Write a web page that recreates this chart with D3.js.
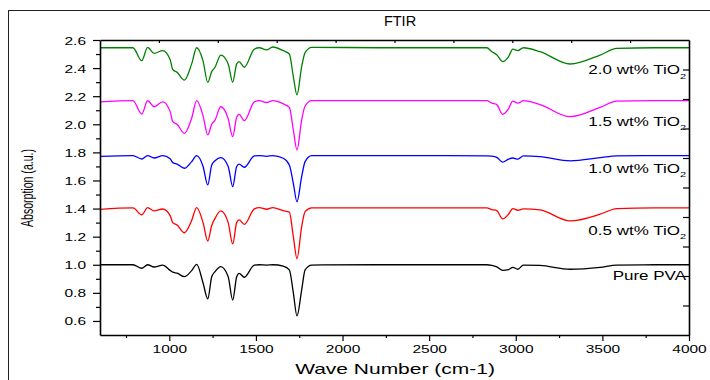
<!DOCTYPE html>
<html>
<head>
<meta charset="utf-8">
<title>FTIR</title>
<style>
  body { margin: 0; background: #fff; }
  text { font-family: "Liberation Sans", Arial, sans-serif; fill: #000; }
</style>
</head>
<body>
<div id="chart"></div>
<script src="https://cdn.jsdelivr.net/npm/d3@7"></script>
<script>

// wave numbers (cm-1) shared by every spectrum
var wavenumber = [600, 790, 841, 875, 912, 962, 1005, 1020, 1045, 1087, 1129, 1158, 1195, 1222, 1245, 1264,
  1297, 1340, 1366, 1389, 1403, 1433, 1491, 1520, 1562, 1597, 1658, 1693, 1716, 1737, 1764, 1784, 1822,
  2200, 2600, 2833, 2862, 2890, 2925, 2958, 2983, 3012, 3044, 3140, 3314, 3487, 3583, 3800, 4000];

var purePVA = [1.000, 1.000, 0.975, 1.000, 0.984, 0.998, 0.960, 0.947, 0.940, 0.915, 0.958, 1.003, 0.870, 0.757, 0.915, 0.951,
  0.987, 0.915, 0.749, 0.915, 0.939, 0.911, 0.998, 1.000, 0.998, 1.000, 0.990, 0.963, 0.800, 0.636, 0.820, 0.963, 0.998,
  1.000, 1.000, 1.000, 0.995, 0.985, 0.960, 0.965, 0.982, 0.968, 0.998, 0.995, 0.968, 0.982, 0.998, 1.000, 1.000];

var tio05 = [1.395, 1.405, 1.355, 1.407, 1.383, 1.397, 1.350, 1.300, 1.283, 1.228, 1.315, 1.407, 1.300, 1.169, 1.280, 1.330,
  1.383, 1.300, 1.148, 1.300, 1.319, 1.288, 1.398, 1.407, 1.395, 1.407, 1.385, 1.375, 1.200, 1.044, 1.270, 1.378, 1.405,
  1.405, 1.405, 1.405, 1.393, 1.385, 1.326, 1.360, 1.400, 1.388, 1.398, 1.390, 1.312, 1.360, 1.400, 1.405, 1.405];

var tio10 = [1.772, 1.777, 1.753, 1.777, 1.760, 1.777, 1.755, 1.727, 1.717, 1.687, 1.734, 1.777, 1.700, 1.568, 1.710, 1.740,
  1.762, 1.700, 1.556, 1.700, 1.717, 1.694, 1.775, 1.777, 1.772, 1.777, 1.758, 1.710, 1.580, 1.449, 1.627, 1.734, 1.777,
  1.777, 1.777, 1.775, 1.773, 1.765, 1.730, 1.752, 1.760, 1.752, 1.775, 1.770, 1.740, 1.762, 1.775, 1.777, 1.777];

var tio15 = [2.160, 2.168, 2.073, 2.168, 2.125, 2.160, 2.090, 2.019, 2.000, 1.936, 2.043, 2.168, 2.060, 1.924, 2.000, 2.030,
  2.125, 2.040, 1.912, 2.050, 2.071, 2.026, 2.160, 2.168, 2.155, 2.168, 2.145, 2.120, 1.960, 1.817, 2.030, 2.130, 2.168,
  2.168, 2.168, 2.168, 2.150, 2.140, 2.071, 2.110, 2.165, 2.150, 2.168, 2.140, 2.054, 2.120, 2.165, 2.168, 2.168];

var tio20 = [2.545, 2.545, 2.453, 2.548, 2.505, 2.524, 2.460, 2.390, 2.370, 2.315, 2.430, 2.545, 2.450, 2.299, 2.375, 2.406,
  2.493, 2.430, 2.299, 2.430, 2.446, 2.406, 2.535, 2.545, 2.530, 2.550, 2.524, 2.500, 2.340, 2.209, 2.410, 2.510, 2.548,
  2.545, 2.545, 2.545, 2.517, 2.495, 2.446, 2.480, 2.535, 2.525, 2.545, 2.517, 2.429, 2.493, 2.540, 2.545, 2.545];

var seriesLabel = ['Pure PVA', '0.5 wt% TiO', '1.0 wt% TiO', '1.5 wt% TiO', '2.0 wt% TiO'];
var seriesSub = ['', '2', '2', '2', '2'];

// ticks
var xMajor = [1000, 1500, 2000, 2500, 3000, 3500, 4000];
var xMinor = [750, 1250, 1750, 2250, 2750, 3250, 3750];
var yMajor = [0.6, 0.8, 1.0, 1.2, 1.4, 1.6, 1.8, 2.0, 2.2, 2.4, 2.6];
var yMinor = [0.7, 0.9, 1.1, 1.3, 1.5, 1.7, 1.9, 2.1, 2.3, 2.5];
var topTicks = [940, 1280, 1620, 1960, 2300, 2640, 2980, 3320, 3660];
var rightTicks = [0.71, 0.92, 1.13, 1.34, 1.55, 1.76, 1.97, 2.18, 2.39];

var series = [purePVA, tio05, tio10, tio15, tio20];
var colors = ['#000000', '#ff0000', '#0000ff', '#ff00ff', '#008000'];
// where each label sits (value units, baseline)
var labelAt = [0.889, 1.212, 1.656, 1.988, 2.355];

var W = 710, H = 380;
var sy = 0.72; // picture text is squashed vertically

var svg = d3.select('#chart').append('svg')
  .attr('width', W).attr('height', H);

// outer frame
svg.append('rect')
  .attr('x', 8.5).attr('y', 10.5)
  .attr('width', 760).attr('height', 420)
  .attr('fill', 'none').attr('stroke', '#222').attr('stroke-width', 1);

var x = d3.scaleLinear().domain([600, 4000]).range([100, 689]);
var y = d3.scaleLinear().domain([0.5, 2.6]).range([335, 40]);

var line = d3.line()
  .x(function(d, i) { return x(wavenumber[i]); })
  .y(function(d) { return y(d); })
  .curve(d3.curveMonotoneX);

series.forEach(function(s, k) {
  svg.append('path')
    .attr('d', line(s))
    .attr('fill', 'none')
    .attr('stroke', colors[k])
    .attr('stroke-width', 1.3);
});

// axes
function styleAxis(g) {
  g.select('.domain').attr('stroke-width', 1.6);
  g.selectAll('.tick line').attr('stroke-width', 1.2);
}

var gb = svg.append('g').attr('transform', 'translate(0,335)')
  .call(d3.axisBottom(x).tickValues(xMajor).tickSize(6).tickSizeOuter(0).tickFormat(d3.format('d')))
  .call(styleAxis);
gb.selectAll('text')
  .attr('y', 0).attr('dy', 0)
  .attr('transform', 'translate(0,18) scale(1,' + sy + ')')
  .style('font-size', '15.5px').style('font-family', '"Liberation Sans", Arial, sans-serif');
svg.append('g').attr('transform', 'translate(0,335)')
  .call(d3.axisBottom(x).tickValues(xMinor).tickSize(3).tickFormat(''))
  .call(function(g) { g.select('.domain').remove(); g.selectAll('.tick line').attr('stroke-width', 1.2); });

var gl = svg.append('g').attr('transform', 'translate(100,0)')
  .call(d3.axisLeft(y).tickValues(yMajor).tickSize(7).tickPadding(7).tickSizeOuter(0).tickFormat(d3.format('.1f')))
  .call(styleAxis);
gl.selectAll('text')
  .attr('dy', 0)
  .attr('transform', 'translate(0,4) scale(1,' + sy + ')')
  .style('font-size', '15.5px').style('font-family', '"Liberation Sans", Arial, sans-serif');
svg.append('g').attr('transform', 'translate(100,0)')
  .call(d3.axisLeft(y).tickValues(yMinor).tickSize(4).tickFormat(''))
  .call(function(g) { g.select('.domain').remove(); g.selectAll('.tick line').attr('stroke-width', 1.2); });

svg.append('g').attr('transform', 'translate(0,40)')
  .call(d3.axisTop(x).tickValues(topTicks).tickSizeInner(-3).tickSizeOuter(0).tickFormat(''))
  .call(styleAxis);

svg.append('g').attr('transform', 'translate(689,0)')
  .call(d3.axisRight(y).tickValues(rightTicks).tickSizeInner(-6).tickSizeOuter(0).tickFormat(''))
  .call(styleAxis);

// series labels
seriesLabel.forEach(function(t, k) {
  var txt = svg.append('text')
    .attr('transform', 'translate(686,' + y(labelAt[k]) + ') scale(1,' + sy + ')')
    .style('text-anchor', 'end')
    .style('font-size', '17px');
  txt.append('tspan').text(t);
  if (seriesSub[k]) {
    txt.append('tspan').attr('dy', 6).style('font-size', '11px').text(seriesSub[k]);
  }
});

// title and axis titles
svg.append('text')
  .attr('x', 400).attr('y', 26)
  .style('text-anchor', 'middle')
  .style('font-size', '14.5px')
  .text('FTIR');

svg.append('text')
  .attr('transform', 'translate(395,374) scale(1,' + sy + ')')
  .style('text-anchor', 'middle')
  .style('font-size', '21px')
  .text('Wave Number (cm-1)');

svg.append('text')
  .attr('transform', 'translate(33,188) scale(1,0.66) rotate(-90)')
  .style('text-anchor', 'middle')
  .style('font-size', '16px')
  .text('Absorption (a.u.)');

</script>
</body>
</html>
